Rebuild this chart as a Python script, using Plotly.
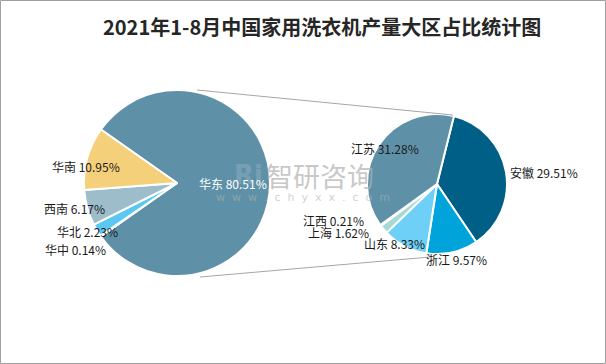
import plotly.graph_objects as go

# ---- data ----
title_text = "2021年1-8月中国家用洗衣机产量大区占比统计图"
region_labels = ["华东", "华中", "华北", "西南", "华南"]
region_values = [80.51, 0.14, 2.23, 6.17, 10.95]
region_colors = ["#5E91A7", "#8FB0C0", "#5CC8F2", "#9DBDCB", "#F5D07B"]

prov_labels = ["安徽", "浙江", "山东", "上海", "江西", "江苏"]
prov_values = [29.51, 9.57, 8.33, 1.62, 0.21, 31.28]
prov_colors = ["#005F86", "#00A3DA", "#6ED0F6", "#A7D9D8", "#C9E6EC", "#5E91A7"]

W, H = 606, 364

def px(x):
    return x / W

def py(y):
    return 1 - y / H

# geometry (pixels)
L_CX, L_CY, L_R = 177, 183, 93
R_CX, R_CY, R_R = 437, 184, 70

main_share = region_values[0] / sum(region_values)
left_rotation = 90 - main_share * 360 / 2   # main slice centred on the right

fig = go.Figure()
fig.add_trace(go.Pie(
    labels=region_labels, values=region_values, sort=False,
    direction="clockwise", rotation=left_rotation,
    marker=dict(colors=region_colors, line=dict(color="white", width=2)),
    textinfo="none", hoverinfo="label+percent", showlegend=False,
    domain=dict(x=[px(L_CX - L_R), px(L_CX + L_R)], y=[py(L_CY + L_R), py(L_CY - L_R)]),
))
fig.add_trace(go.Pie(
    labels=prov_labels, values=prov_values, sort=False,
    direction="clockwise", rotation=14,
    marker=dict(colors=prov_colors, line=dict(color="white", width=2)),
    textinfo="none", hoverinfo="label+value", showlegend=False,
    domain=dict(x=[px(R_CX - R_R), px(R_CX + R_R)], y=[py(R_CY + R_R), py(R_CY - R_R)]),
))

font_lbl = "Noto Sans CJK SC, sans-serif"
annotations = []

def lab(text, x, y, color="#1a1a1a", anchor="left"):
    annotations.append(dict(text=text, x=px(x), y=py(y), xref="paper", yref="paper",
                            showarrow=False, xanchor=anchor, yanchor="middle",
                            font=dict(family=font_lbl, size=12, color=color)))

def fmt(name, v):
    return f"{name} {v:.2f}%"

# left pie labels
lab(fmt(region_labels[4], region_values[4]), 50, 167)
lab(fmt(region_labels[3], region_values[3]), 42, 209)
lab(fmt(region_labels[2], region_values[2]), 55, 232)
lab(fmt(region_labels[1], region_values[1]), 43, 249)

# watermark
annotations.append(dict(text="<b>Ri</b>", x=px(249), y=py(175), xref="paper", yref="paper",
                        showarrow=False, font=dict(family="DejaVu Sans", size=26,
                        color="rgba(165,182,200,0.4)")))
annotations.append(dict(text="智研咨询", x=px(320), y=py(175), xref="paper", yref="paper",
                        showarrow=False, font=dict(family=font_lbl, size=27,
                        color="rgba(175,175,175,0.7)")))
annotations.append(dict(text="w  w  w  .  c  h  y  x  x  .  c  o  m", x=px(303), y=py(197),
                        xref="paper", yref="paper", showarrow=False,
                        font=dict(family="DejaVu Sans", size=11, color="rgba(175,175,175,0.6)")))

lab(fmt(region_labels[0], region_values[0]), 197, 183, color="white")

# right pie labels
lab(fmt(prov_labels[5], prov_values[5]), 349, 148)
lab(fmt(prov_labels[0], prov_values[0]), 508, 172)
lab(fmt(prov_labels[1], prov_values[1]), 424, 259)
lab(fmt(prov_labels[2], prov_values[2]), 362, 244)
lab(fmt(prov_labels[3], prov_values[3]), 306, 233)
lab(fmt(prov_labels[4], prov_values[4]), 301, 221)

# title
annotations.append(dict(text=f"<b>{title_text}</b>", x=px(322), y=py(27), xref="paper", yref="paper",
                        showarrow=False, xanchor="center", yanchor="middle",
                        font=dict(family="Noto Sans CJK SC, serif", size=20, color="#262626")))

shapes = [
    dict(type="line", xref="paper", yref="paper", x0=px(197), y0=py(90), x1=px(453), y1=py(115),
         line=dict(color="#A6A6A6", width=1)),
    dict(type="line", xref="paper", yref="paper", x0=px(200), y0=py(277), x1=px(430), y1=py(257),
         line=dict(color="#A6A6A6", width=1)),
    dict(type="rect", xref="paper", yref="paper", x0=px(0.5), y0=py(363.5), x1=px(605.5), y1=py(0.5),
         line=dict(color="#A0A0A0", width=1)),
]

fig.update_layout(
    width=W, height=H, margin=dict(l=0, r=0, t=0, b=0),
    paper_bgcolor="white", plot_bgcolor="white",
    annotations=annotations, shapes=shapes,
)

fig.write_html("out.html", config={"displayModeBar": False},
               post_script="document.body.style.margin='0px';")
